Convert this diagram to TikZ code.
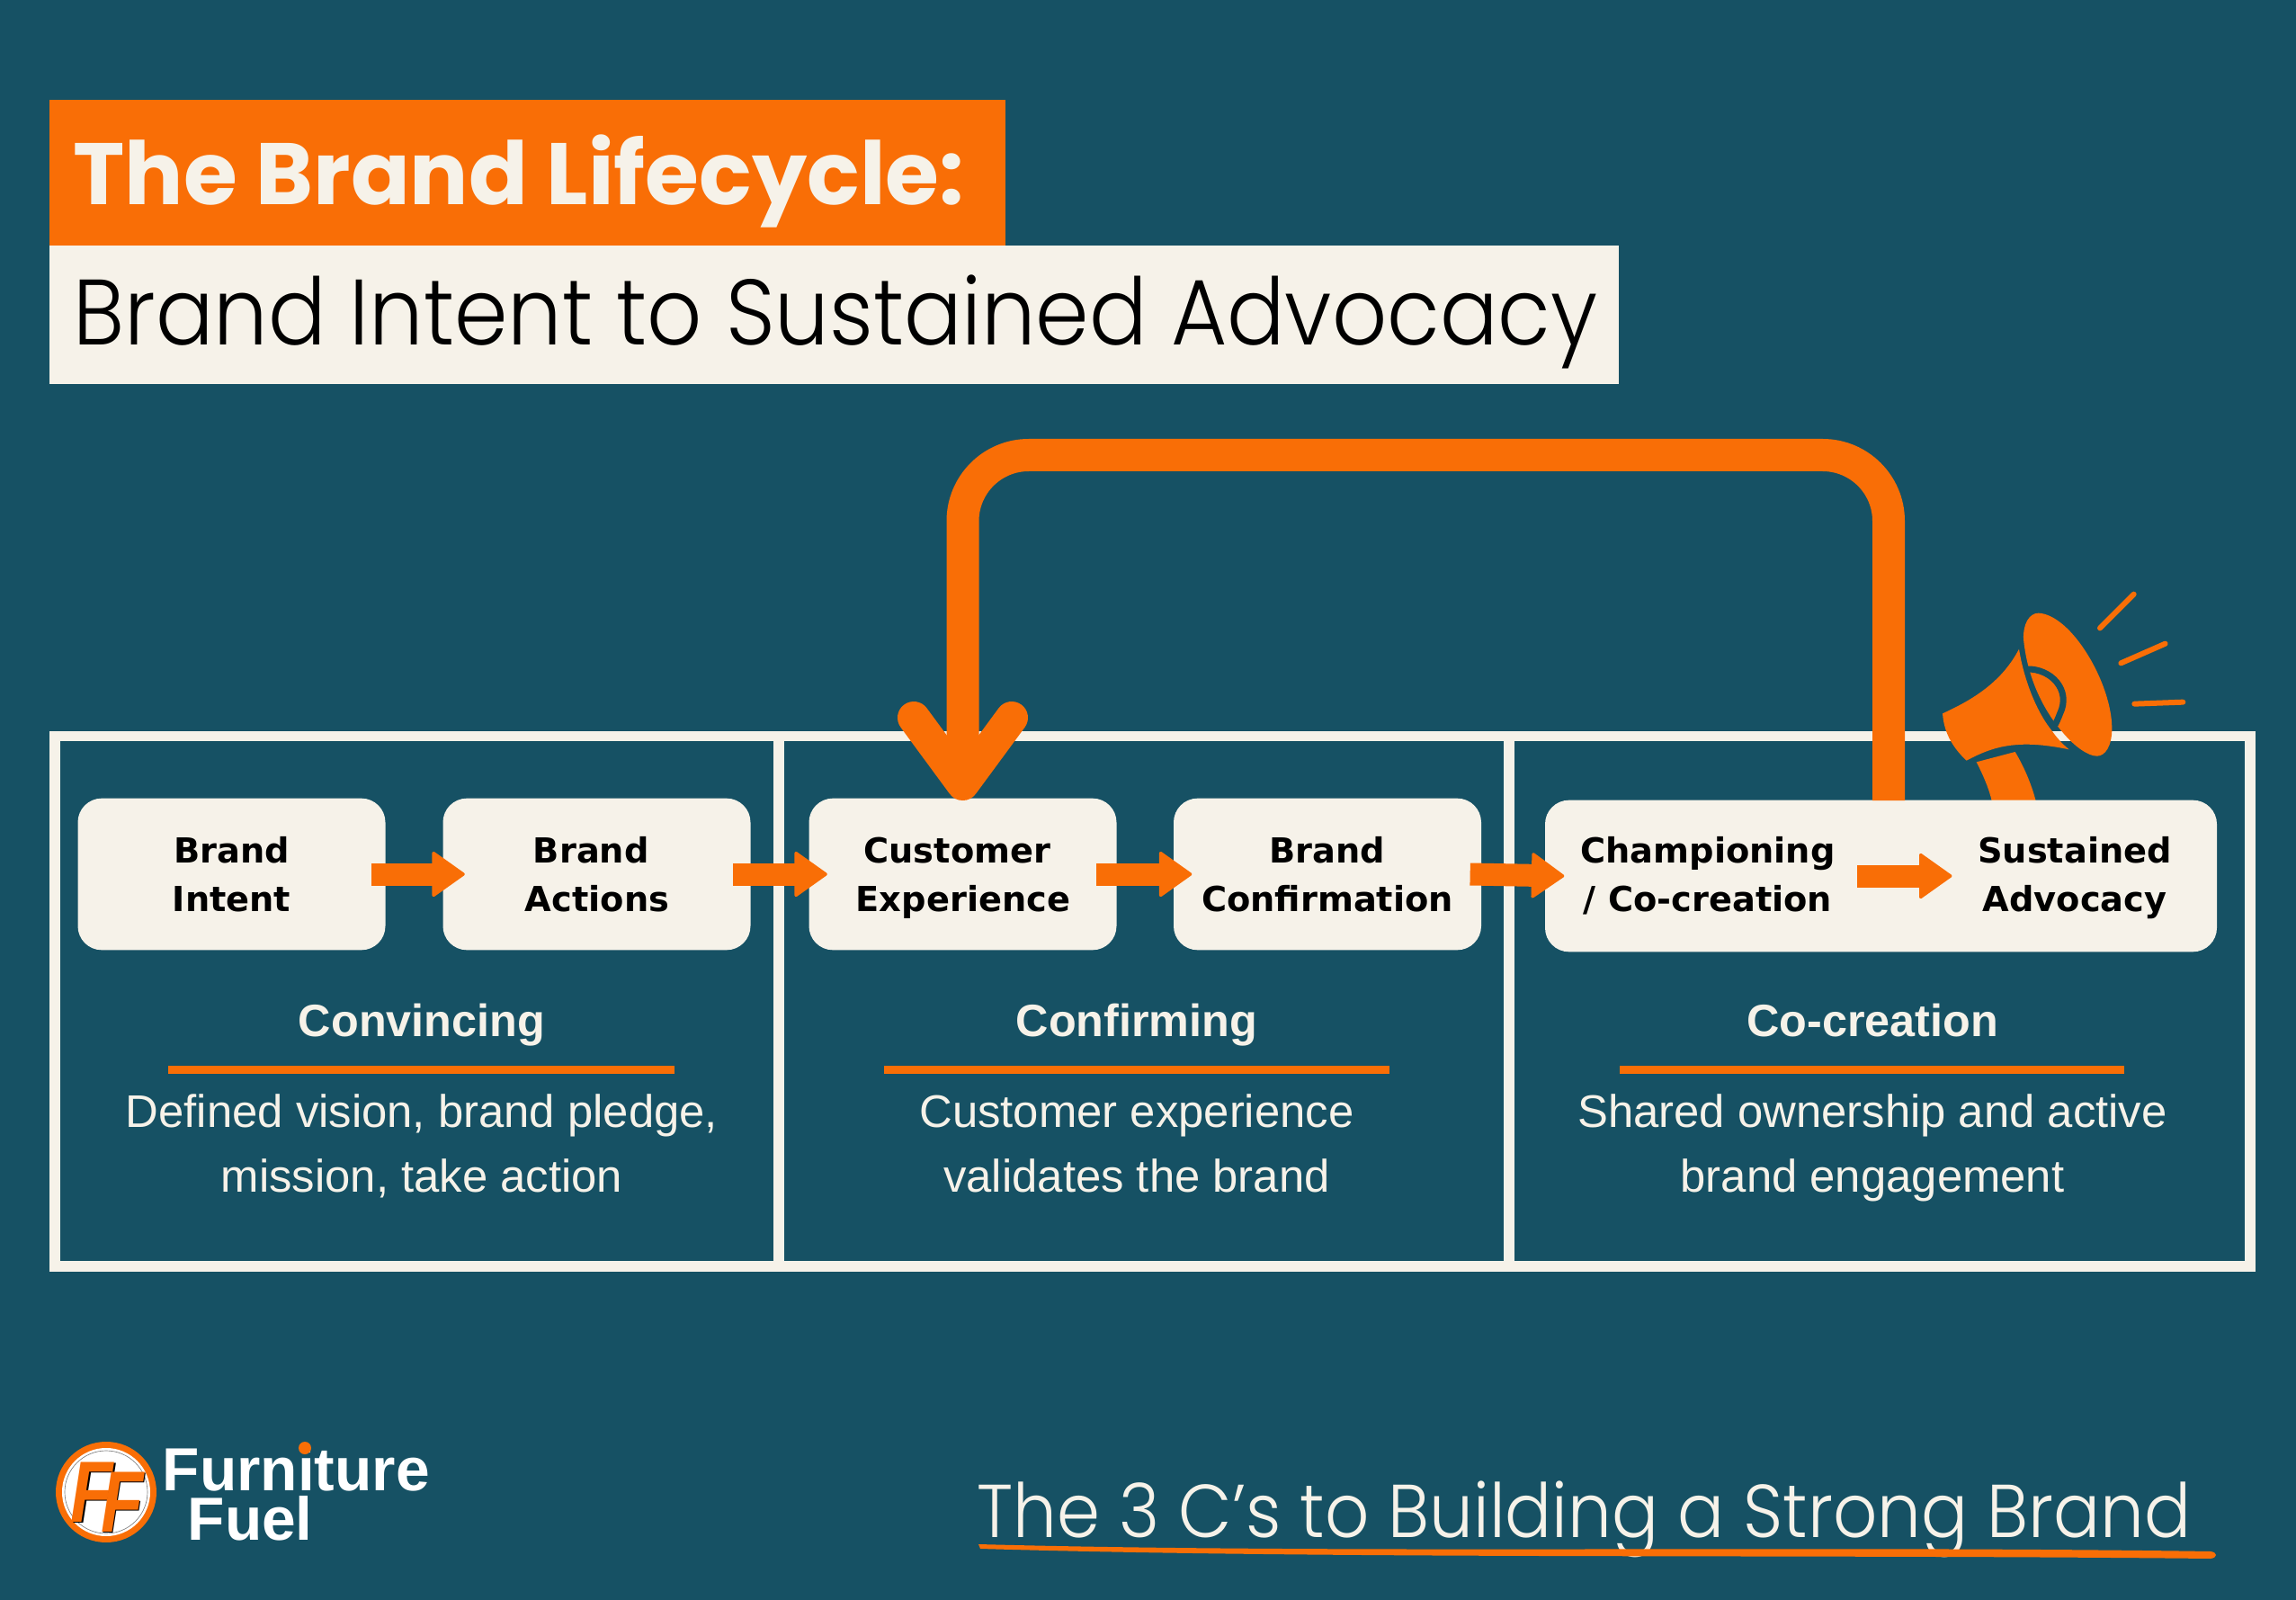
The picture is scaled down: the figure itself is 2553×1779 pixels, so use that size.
\documentclass[tikz,border=0pt]{standalone}
\usepackage{fontspec}
\usetikzlibrary{arrows.meta}
\usetikzlibrary{calc}
\setmainfont{Liberation Sans}
\newfontfamily\titlefont{Poppins}
\newfontfamily\lightfont{Poppins Light}[FakeStretch=0.925]
\newfontfamily\boxfont{DejaVu Sans}
\definecolor{bgteal}{RGB}{22,81,100}
\definecolor{brandorange}{RGB}{249,110,6}
\definecolor{cream}{RGB}{246,242,233}
\newcommand{\logoletter}{\rlap{\kern0.7pt\raisebox{-0.3pt}{\color{black}F}}F}
\tikzset{
  stepbox/.style={fill=cream,rounded corners=8pt,minimum width=102.6pt,minimum height=50.6pt,inner sep=0pt},
  steplabel/.style={font=\boxfont\bfseries\fontsize{11.5}{16.2}\selectfont,align=center,inner sep=0pt,text=black},
  flowarrow/.style={draw=brandorange,line width=7.5pt,-{Triangle[round,length=11.3pt,width=15.8pt,line width=1pt,fill=brandorange]}},
  headlabel/.style={anchor=base,font=\bfseries\fontsize{15.1}{18}\selectfont,text=cream,inner sep=0pt},
  bodylabel/.style={font=\fontsize{15.25}{21.6}\selectfont,text=cream,align=center,inner sep=0pt},
  headrule/.style={draw=brandorange,line width=2.7pt},
  framebar/.style={draw=cream,line width=3.4pt}
}
\begin{document}
\begin{tikzpicture}[x=0.3pt,y=0.3pt,yscale=-1,xscale=1]
        \useasboundingbox (0,0) rectangle (2553,1779);
        \fill [bgteal] (0,0) rectangle (2553,1779);

        %Title bars
        \fill [brandorange] (55,111) rectangle (1118,273);
        \fill [cream] (55,273) rectangle (1800,427);
        \node (titletop) [anchor=base west,inner sep=0pt,text=cream,font=\titlefont\bfseries\fontsize{29.1}{30}\selectfont] at (81,228) {The Brand Lifecycle:};
        \node (titlesub) [anchor=base west,inner sep=0pt,text=black,font=\lightfont\fontsize{31}{32}\selectfont] at (81,384) {Brand Intent to Sustained Advocacy};

        %Frame of the three sections
        \draw [framebar] (61,818.5) rectangle (2502,1408);
        \coordinate (divonetop) at (866,818.5);
        \coordinate (divonebot) at (866,1408);
        \coordinate (divtwotop) at (1678,818.5);
        \coordinate (divtwobot) at (1678,1408);
        \draw [framebar] (divonetop) -- (divonebot);
        \draw [framebar] (divtwotop) -- (divtwobot);

        %Megaphone, traced at a third of a pixel
        \begin{scope}[shift={(2050,620)},scale=0.33333]
          \fill [brandorange] (600,272) .. controls (598,220) and (620,185) .. (650,185) .. controls (760,190) and (895,420) .. (895,570) .. controls (895,630) and (872,662) .. (845,662) .. controls (815,662) and (770,630) .. (730,582) .. controls (680,525) and (615,420) .. (600,272) -- cycle;
          \draw [bgteal,line width=2.1pt] (612,372) .. controls (690,370) and (760,440) .. (722,520) .. controls (716,535) and (712,545) .. (705,558);
          \fill [brandorange] (585,305) .. controls (600,400) and (640,510) .. (695,578) .. controls (710,600) and (730,622) .. (752,640) .. controls (680,625) and (620,620) .. (570,625) .. controls (510,630) and (460,650) .. (410,677) .. controls (370,640) and (335,590) .. (330,520) .. controls (440,470) and (530,410) .. (585,305) -- cycle;
          \fill [brandorange] (443,682) -- (572,648) .. controls (600,695) and (625,750) .. (642,815) -- (495,815) .. controls (485,770) and (465,725) .. (443,682) -- cycle;
          \draw [brandorange,line width=1.8pt,line cap=round] (855,235) -- (968,122);
          \draw [brandorange,line width=1.8pt,line cap=round] (925,352) -- (1073,287);
          \draw [brandorange,line width=1.8pt,line cap=round] (970,488) -- (1132,482);
        \end{scope}

        %Step boxes
        \node (intent) [stepbox] at (257.5,972) {};
        \node (actions) [stepbox] at (663.5,972) {};
        \node (experience) [stepbox] at (1070.5,972) {};
        \node (confirmation) [stepbox] at (1476,972) {};
        \node (cocreate) [stepbox,minimum width=224.1pt] at (2091.5,974) {};

        % Text Node
        \node (intenttext) [steplabel] at (257.5,975.5) {Brand\strut\\Intent\strut};
        \node (actionstext) [steplabel] at (664,975.5) {Brand\hspace*{4pt}\strut\\Actions\strut};
        \node (experiencetext) [steplabel] at (1071,975.5) {Customer\hspace*{4pt}\strut\\Experience\strut};
        \node (confirmationtext) [steplabel] at (1476,975.5) {Brand\strut\\Confirmation\strut};
        \node (championtext) [steplabel] at (1899,975.5) {Championing\strut\\/ Co-creation\strut};
        \node (sustainedtext) [steplabel] at (2307,975.5) {Sustained\strut\\Advocacy\strut};

        %Feedback loop
        \coordinate (loopstart) at (2100,890);
        \coordinate (looprise) at (2100,506);
        \coordinate (loopturn) at (1070.5,506);
        \coordinate (looptip) at (1070.5,872);
        \coordinate (barbleft) at (1016,798);
        \coordinate (barbright) at (1125,798);
        \draw [brandorange,line width=10.8pt,rounded corners=22pt] (loopstart) -- (looprise) -- (loopturn) -- (looptip);
        \draw [brandorange,line width=10.8pt,line cap=round,line join=round] (barbleft) -- (looptip) -- (barbright);

        %Arrows between the steps
        \draw [flowarrow] ($(intent.east)+(-16,0)$) -- ($(actions.west)+(25,0)$);
        \draw [flowarrow] ($(actions.east)+(-20,0)$) -- ($(experience.west)+(21,0)$);
        \draw [flowarrow] ($(experience.east)+(-23,0)$) -- ($(confirmation.west)+(21,0)$);
        \draw [flowarrow] ($(confirmation.east)+(-13,0)$) -- ($(cocreate.west)+(22,0)$);
        \draw [flowarrow] ($(championtext.east)+(24,-1.5)$) -- ($(sustainedtext.west)+(-28,-1.5)$);

        % Text Node
        \node (convincing) [headlabel] at (469,1152) {Convincing};
        \node (confirming) [headlabel] at (1264,1152) {Confirming};
        \node (cocreation) [headlabel] at (2082,1152) {Co-creation};
        \draw [headrule] (187,1189) -- (750,1189);
        \draw [headrule] (983,1189) -- (1545,1189);
        \draw [headrule] (1801,1189) -- (2362,1189);
        \node (convincingtext) [bodylabel] at (469,1274.6) {Defined vision, brand pledge,\strut\\mission, take action\strut};
        \node (confirmingtext) [bodylabel] at (1264,1274.6) {Customer experience\strut\\validates the brand\strut};
        \node (cocreationtext) [bodylabel] at (2082,1274.6) {Shared ownership and active\strut\\brand engagement\strut};

        %Logo
        \fill [brandorange] (118,1659) circle (56);
        \fill [white] (118,1659) circle (49);
        \draw [gray,line width=0.2pt] (118,1659) circle (46);
        \node (logoletters) [anchor=base west,inner sep=0pt,text=brandorange,font=\bfseries\itshape\fontsize{29}{30}\selectfont] at (78,1692) {\scalebox{0.8}[1]{\logoletter\kern-5.2pt\raisebox{-3.3pt}{\logoletter}}};
        \node (logofurniture) [anchor=base west,inner sep=0pt,text=white,font=\bfseries\fontsize{20.3}{22}\selectfont] at (180,1657) {Furniture};
        \node (logofuel) [anchor=base west,inner sep=0pt,text=white,font=\bfseries\fontsize{20.3}{22}\selectfont] at (208,1712) {Fuel};
        \fill [brandorange] (339,1610) circle (7);

        %Strapline
        \node (strapline) [anchor=base west,inner sep=0pt,text=cream,font=\lightfont\fontsize{25}{26}\selectfont] at (1086,1709) {The 3 C’s to Building a Strong Brand};
        \fill [brandorange] (1088,1717) .. controls (1500,1728) and (2000,1718) .. (2458,1725) .. controls (2466,1726) and (2466,1732) .. (2458,1733) .. controls (2000,1728) and (1500,1734) .. (1090,1722) -- cycle;
\end{tikzpicture}
\end{document}
